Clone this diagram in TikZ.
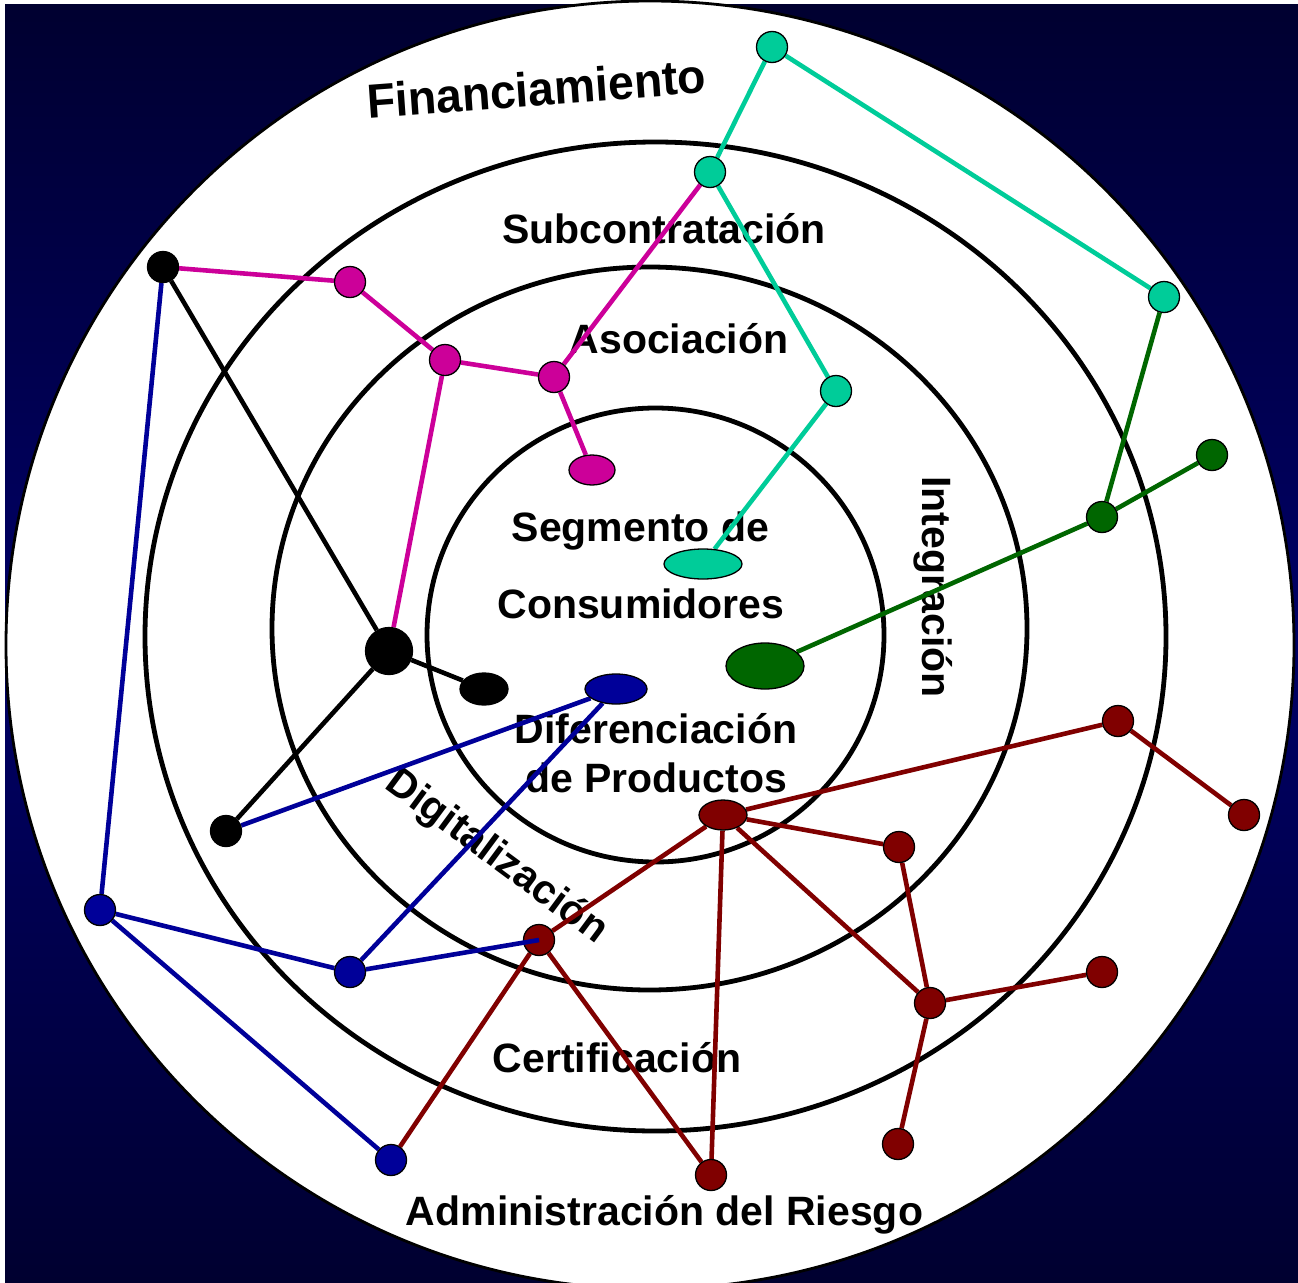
\documentclass[tikz,border=0pt]{standalone}
\usepackage{fontspec}
\setmainfont{Liberation Sans}
\usetikzlibrary{shapes.geometric}
\pgfdeclarelayer{bg}
\pgfdeclarelayer{edges}
\pgfsetlayers{bg,edges,main}
\definecolor{navyA}{HTML}{000030}
\definecolor{navyB}{HTML}{000066}
\definecolor{tealc}{HTML}{00CC99}
\definecolor{greenc}{HTML}{006600}
\definecolor{magc}{HTML}{CC0099}
\definecolor{bluec}{HTML}{000099}
\definecolor{redc}{HTML}{800000}
\begin{document}
\begin{tikzpicture}[x=1pt,y=-1pt,
  dot/.style={circle,draw=black,line width=1.3pt,inner sep=0pt,minimum size=31pt},
  bigdot/.style={dot,minimum size=47pt},
  oval/.style={ellipse,draw=black,line width=1.3pt,inner sep=0pt},
  ring/.style={draw=black,line width=4.8pt},
  lbl/.style={font=\fontsize{41}{48}\selectfont\bfseries,inner sep=0pt,anchor=base},
  link/.style={line width=4.6pt},
]
\useasboundingbox (0,0) rectangle (1298,1282);

% ---------- nodes ----------
% teal
\node[dot,fill=tealc] (T1) at (772,47) {};
\node[dot,fill=tealc] (T2) at (710,172) {};
\node[dot,fill=tealc] (T3) at (1164,297) {};
\node[dot,fill=tealc] (T4) at (836,391) {};
\node[oval,fill=tealc,minimum width=78pt,minimum height=30pt] (T5) at (703,564) {};
% green
\node[dot,fill=greenc] (G1) at (1212,455) {};
\node[dot,fill=greenc] (G2) at (1102,517) {};
\node[oval,fill=greenc,minimum width=78pt,minimum height=46pt] (G3) at (765,666) {};
% magenta
\node[dot,fill=magc] (M1) at (350,282) {};
\node[dot,fill=magc] (M2) at (445,360) {};
\node[dot,fill=magc] (M3) at (554,377) {};
\node[oval,fill=magc,minimum width=46pt,minimum height=30pt] (M4) at (592,470) {};
% black
\node[dot,fill=black] (K1) at (163,267) {};
\node[bigdot,fill=black] (K2) at (389,651) {};
\node[oval,fill=black,minimum width=48pt,minimum height=32pt] (K3) at (484,689) {};
\node[dot,fill=black] (K4) at (226,831) {};
% blue
\node[dot,fill=bluec] (B1) at (100,910) {};
\node[dot,fill=bluec] (B2) at (350,972) {};
\node[dot,fill=bluec] (B3) at (391,1160) {};
\node[oval,fill=bluec,minimum width=62pt,minimum height=30pt] (B4) at (616,689) {};
% dark red
\node[oval,fill=redc,minimum width=48pt,minimum height=30pt] (R1) at (723,815) {};
\node[dot,fill=redc] (R2) at (539,940) {};
\node[dot,fill=redc] (R3) at (1118,721) {};
\node[dot,fill=redc] (R4) at (1244,815) {};
\node[dot,fill=redc] (R5) at (899,847) {};
\node[dot,fill=redc] (R6) at (930,1003) {};
\node[dot,fill=redc] (R7) at (1102,972) {};
\node[dot,fill=redc] (R8) at (898,1144) {};
\node[dot,fill=redc] (R9) at (711,1175) {};

% on top: blue link into R2
\draw[link,bluec] (B2) -- (R2.center);

% ---------- background, rings, labels ----------
\begin{pgfonlayer}{bg}
\fill[white] (0,0) rectangle (1298,1282);
\shade[top color=navyA,bottom color=navyA,middle color=navyB] (5,4) rectangle (1298,1282);
\fill[white,draw=black,line width=2.8pt] (650,645) circle [radius=644pt];
\draw[ring] (655.5,636.5) ellipse [x radius=510.5pt,y radius=494.5pt];
\draw[ring] (649.5,628.5) ellipse [x radius=377.5pt,y radius=361.5pt];
\draw[ring] (655.5,635) ellipse [x radius=228.5pt,y radius=227pt];

\node[lbl,font=\fontsize{48}{56}\selectfont\bfseries,xscale=0.965,rotate=4.2] (tFin) at (537.5,105.5) {Financiamiento};
\node[lbl] (tSub) at (664,243) {Subcontratación};
\node[lbl] (tAso) at (679,353) {Asociación};
\node[lbl] (tSeg) at (640.5,541) {Segmento de};
\node[lbl] (tCon) at (641,618) {Consumidores};
\node[lbl] (tDif) at (656,743) {Diferenciación};
\node[lbl] (tPro) at (656,792) {de Productos};
\node[lbl] (tCer) at (617,1072) {Certificación};
\node[lbl] (tAdm) at (664.5,1225) {Administración del Riesgo};
\node[lbl,rotate=-36.5] (tDig) at (490,866) {Digitalización};
\node[lbl,rotate=-90] (tInt) at (922,587) {Integración};
\end{pgfonlayer}

% ---------- connectors ----------
\begin{pgfonlayer}{edges}
\draw[link,tealc] (T1) -- (T2);
\draw[link,tealc] (T1) -- (T3);
\draw[link,tealc] (T2) -- (T4);
\draw[link,tealc] (T4) -- (T5);
\draw[link,greenc] (T3) -- (G2);
\draw[link,greenc] (G1) -- (G2);
\draw[link,greenc] (G2) -- (G3);
\draw[link,magc] (K1) -- (M1);
\draw[link,magc] (M1) -- (M2);
\draw[link,magc] (M2) -- (M3);
\draw[link,magc] (M3) -- (M4);
\draw[link,magc] (M3) -- (T2);
\draw[link,magc] (M2) -- (K2);
\draw[link,black] (K1) -- (K2);
\draw[link,black] (K2) -- (K3);
\draw[link,black] (K2) -- (K4);
\draw[link,bluec] (K1) -- (B1);
\draw[link,bluec] (B1) -- (B2);
\draw[link,bluec] (B1) -- (B3);
\draw[link,bluec] (B2) -- (B4);
\draw[link,bluec] (K4) -- (B4);
\draw[link,redc] (R1) -- (R2);
\draw[link,redc] (R2) -- (B3);
\draw[link,redc] (R2) -- (R9);
\draw[link,redc] (R1) -- (R9);
\draw[link,redc] (R1) -- (R3);
\draw[link,redc] (R3) -- (R4);
\draw[link,redc] (R1) -- (R5);
\draw[link,redc] (R1) -- (R6);
\draw[link,redc] (R5) -- (R6);
\draw[link,redc] (R6) -- (R7);
\draw[link,redc] (R6) -- (R8);
\end{pgfonlayer}
\end{tikzpicture}
\end{document}
